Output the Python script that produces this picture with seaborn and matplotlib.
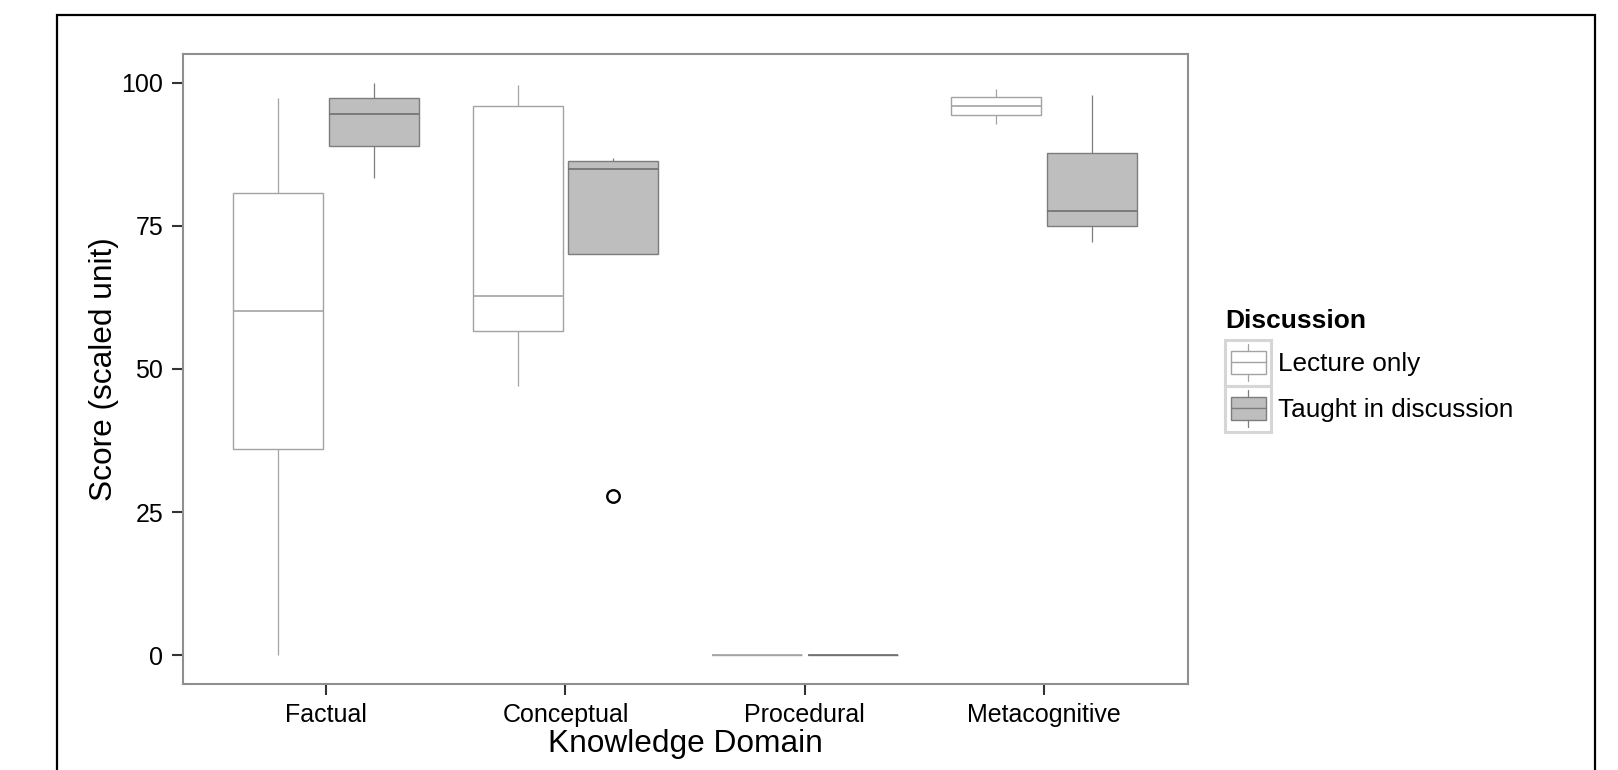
import numpy as np
import pandas as pd
import matplotlib
matplotlib.use("Agg")
import matplotlib.pyplot as plt
from matplotlib.patches import Patch, Rectangle
from matplotlib.lines import Line2D
from matplotlib.legend_handler import HandlerBase
import seaborn as sns

# categories
domains = ["Factual", "Conceptual", "Procedural", "Metacognitive"]
groups = ["Lecture only", "Taught in discussion"]

# scores, one list per domain / group
lecture_factual = [0.0, 36.0, 60.1, 80.8, 97.3]
lecture_conceptual = [47.1, 56.7, 62.8, 95.9, 99.5]
lecture_procedural = [0.0, 0.0, 0.0, 0.0, 0.0]
lecture_metacognitive = [92.8, 94.3, 95.9, 97.5, 98.9]

taught_factual = [83.3, 88.9, 94.6, 97.3, 100.0]
taught_conceptual = [27.9, 70.0, 84.9, 86.3, 86.9]
taught_procedural = [0.0, 0.0, 0.0, 0.0, 0.0]
taught_metacognitive = [72.2, 74.9, 77.5, 87.7, 97.8]

scores = {
    "Lecture only": [lecture_factual, lecture_conceptual, lecture_procedural, lecture_metacognitive],
    "Taught in discussion": [taught_factual, taught_conceptual, taught_procedural, taught_metacognitive],
}

rows = []
for g in groups:
    for d, vals in zip(domains, scores[g]):
        for v in vals:
            rows.append({"domain": d, "discussion": g, "score": v})
df = pd.DataFrame(rows)

fills = {"Lecture only": "white", "Taught in discussion": "#bebebe"}
edges = {"Lecture only": "#a3a3a3", "Taught in discussion": "#7d7d7d"}

sns.set_style("white")
plt.rcParams["font.family"] = ["Liberation Sans", "DejaVu Sans"]
plt.rcParams["text.color"] = "black"
plt.rcParams["axes.labelcolor"] = "black"

fig = plt.figure(figsize=(16.18, 7.70), dpi=100)
ax = fig.add_axes([182.6 / 1618, 1 - 684 / 770, (1187.7 - 182.6) / 1618, (684 - 54) / 770])

sns.boxplot(data=df, x="domain", y="score", hue="discussion", order=domains, hue_order=groups,
            palette=fills, width=0.8, gap=0.06, showcaps=False, linewidth=1.0, legend=False,
            flierprops=dict(marker="o", markerfacecolor="white", markeredgecolor="black",
                            markersize=9, markeredgewidth=1.7),
            ax=ax)

# give each group its own outline colour, like the ggplot original
for cont, g in zip(ax.containers, groups):
    for box in cont.boxes:
        box.set_edgecolor(edges[g])
        box.set_linewidth(1.0)
    for ln in cont.whiskers:
        ln.set_color(edges[g])
        ln.set_linewidth(0.9)
    for ln in cont.medians:
        ln.set_color("#6f6f6f" if g == groups[1] else edges[g])
        ln.set_linewidth(1.2)
    for fl in cont.fliers:
        fl.set_markeredgecolor("black")
        fl.set_markerfacecolor("white")

ax.set_xlim(-0.6, 3.6)
ax.set_ylim(-5, 105)
ax.set_yticks([0, 25, 50, 75, 100])
ax.set_xlabel("Knowledge Domain", fontsize=22.8, labelpad=1, color="black")
ax.set_ylabel("Score (scaled unit)", fontsize=22.8, labelpad=2, color="black")
ax.tick_params(axis="both", which="major", length=8, width=1.5, color="#333333",
               labelsize=18, labelcolor="black", bottom=True, left=True)
ax.tick_params(axis="y", pad=6)
ax.tick_params(axis="x", pad=6)
for s in ax.spines.values():
    s.set_color("#8f8f8f")
    s.set_linewidth(1.5)


class BoxKey(HandlerBase):
    def create_artists(self, legend, orig_handle, xdescent, ydescent, width, height, fontsize, trans):
        x0, y0 = -xdescent, -ydescent
        fc = orig_handle.get_facecolor()
        ec = orig_handle.get_edgecolor()
        frame = Rectangle((x0, y0), width, height, facecolor="white", edgecolor="#d6d6d6",
                          linewidth=2.2, transform=trans)
        bx = Rectangle((x0 + 0.13 * width, y0 + 0.25 * height), 0.76 * width, 0.515 * height,
                       facecolor=fc, edgecolor=ec, linewidth=1.0, transform=trans)
        cx = x0 + 0.51 * width
        w_hi = Line2D([cx, cx], [y0 + 0.765 * height, y0 + 0.91 * height], color=ec, lw=0.9, transform=trans)
        w_lo = Line2D([cx, cx], [y0 + 0.10 * height, y0 + 0.25 * height], color=ec, lw=0.9, transform=trans)
        med = Line2D([x0 + 0.13 * width, x0 + 0.89 * width], [y0 + 0.51 * height] * 2,
                     color=ec, lw=1.0, transform=trans)
        return [frame, bx, w_hi, w_lo, med]


handles = [Patch(facecolor=fills[g], edgecolor=edges[g]) for g in groups]
leg = fig.legend(handles, groups, title="Discussion", loc="upper left",
                 bbox_to_anchor=(1225 / 1618, 1 - 309 / 770), frameon=False,
                 fontsize=18.8, title_fontproperties={"weight": "bold", "size": 19},
                 handlelength=1.76, handleheight=2.33, labelspacing=0, handletextpad=0.27,
                 borderpad=0, borderaxespad=0, alignment="left",
                 handler_map={Patch: BoxKey()})
for t in leg.get_texts():
    t.set_color("black")
leg.get_title().set_color("black")
# a little room between the legend title and the keys
leg._legend_box.sep = 5

# outer frame of the figure panel
fig.add_artist(Rectangle((57 / 1618, -0.1), (1595 - 57) / 1618, 1.1 - 15 / 770,
                         transform=fig.transFigure, fill=False, edgecolor="black", linewidth=1.6))

fig.savefig("out.png", dpi=100)
